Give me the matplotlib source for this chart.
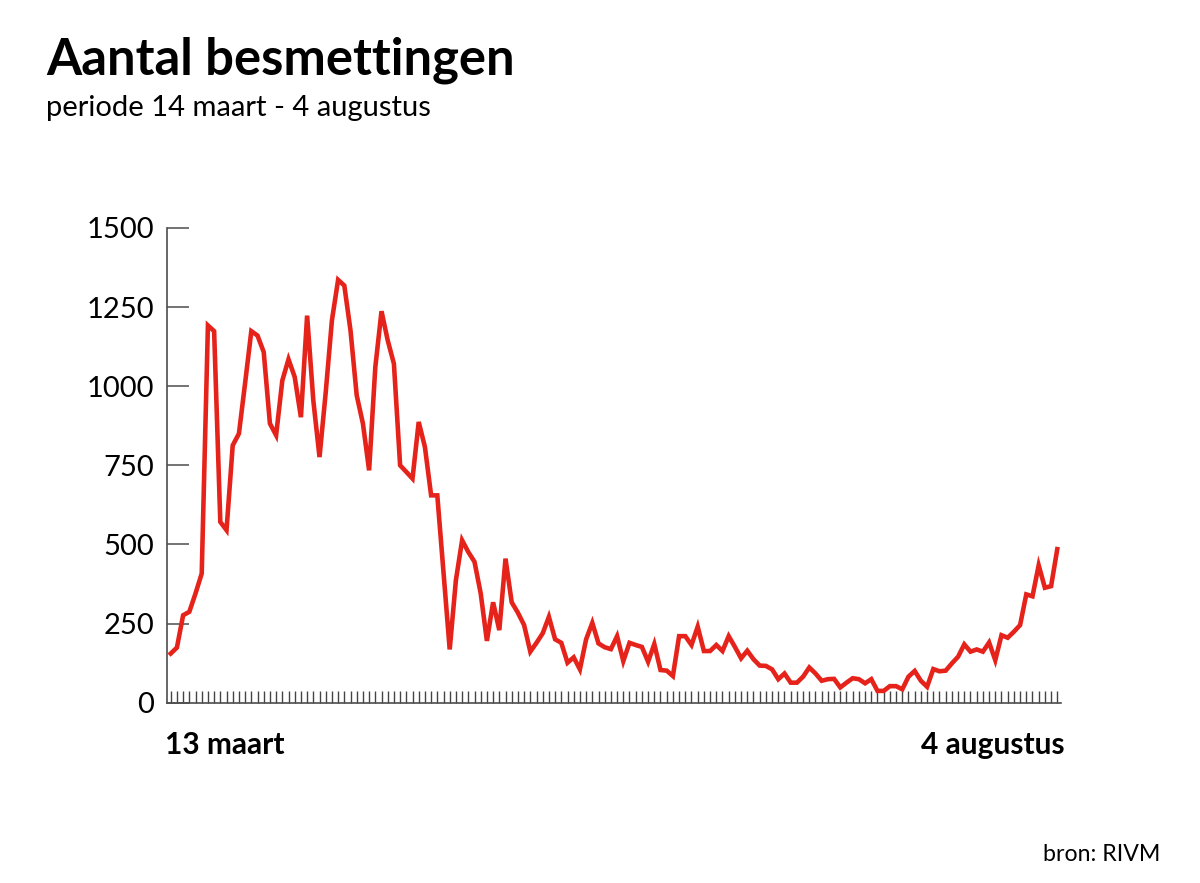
import numpy as np
import matplotlib.pyplot as plt

# daily infections, 14 March - 4 August
besmettingen = [
    155, 174, 276, 287, 345, 408, 1192, 1174, 571, 545,
    813, 850, 1010, 1174, 1160, 1108, 882, 845, 1018, 1085,
    1029, 902, 1223, 955, 776, 980, 1208, 1336, 1318, 1176,
    971, 882, 734, 1060, 1237, 1145, 1071, 750, 729, 708,
    887, 808, 655, 655, 410, 168, 387, 513, 476, 445,
    345, 195, 317, 229, 455, 317, 284, 245, 161, 189,
    219, 271, 200, 189, 126, 143, 105, 200, 252, 187,
    175, 169, 210, 131, 189, 182, 176, 129, 185, 103,
    101, 84, 210, 210, 182, 240, 163, 163, 182, 163,
    210, 176, 140, 164, 137, 117, 116, 105, 74, 92,
    63, 63, 82, 111, 92, 69, 74, 75, 48, 63,
    77, 74, 61, 74, 37, 37, 52, 52, 42, 82,
    100, 69, 50, 106, 99, 101, 124, 145, 184, 161,
    168, 161, 190, 134, 213, 205, 224, 245, 342, 336,
    434, 363, 368, 485,
]
dagen = np.arange(len(besmettingen))
y_ticks = [0, 250, 500, 750, 1000, 1250, 1500]

plt.rcParams['font.family'] = ['Lato', 'DejaVu Sans']

fig = plt.figure(figsize=(12, 8.83), dpi=100)
ax = fig.add_axes([167/1200, 1-702.6/883, 894/1200, (702.6-228)/883])

ax.plot(dagen, besmettingen, color='#e5231b', lw=3.3, solid_joinstyle='miter')

ax.set_xlim(-0.6, len(besmettingen) - 0.4)
ax.set_ylim(0, 1500)

# axes styling
for s in ['top', 'right']:
    ax.spines[s].set_visible(False)
for s in ['left', 'bottom']:
    ax.spines[s].set_color('#4d4d4d')
    ax.spines[s].set_linewidth(1.2)

ax.set_yticks(y_ticks)
ax.set_yticklabels([str(v) for v in y_ticks])
ax.tick_params(axis='y', direction='in', length=16, width=1.1, color='#4d4d4d',
               labelsize=21, pad=9)
ax.set_xticks(dagen)
ax.set_xticklabels([])
ax.tick_params(axis='x', direction='in', length=8.5, width=1.0, color='#444444')

# texts
fig.text(46/1200, 1-75/883, 'Aantal besmettingen', fontsize=36.5, fontweight='bold')
fig.text(46/1200, 1-116/883, 'periode 14 maart - 4 augustus', fontsize=21)
fig.text(165/1200, 1-754/883, '13 maart', fontsize=21.5, fontweight='bold')
fig.text(1065/1200, 1-754/883, '4 augustus', fontsize=21.5, fontweight='bold', ha='right')
fig.text(1160/1200, 1-861/883, 'bron: RIVM', fontsize=16.7, ha='right')

plt.savefig('out.png', dpi=100)
